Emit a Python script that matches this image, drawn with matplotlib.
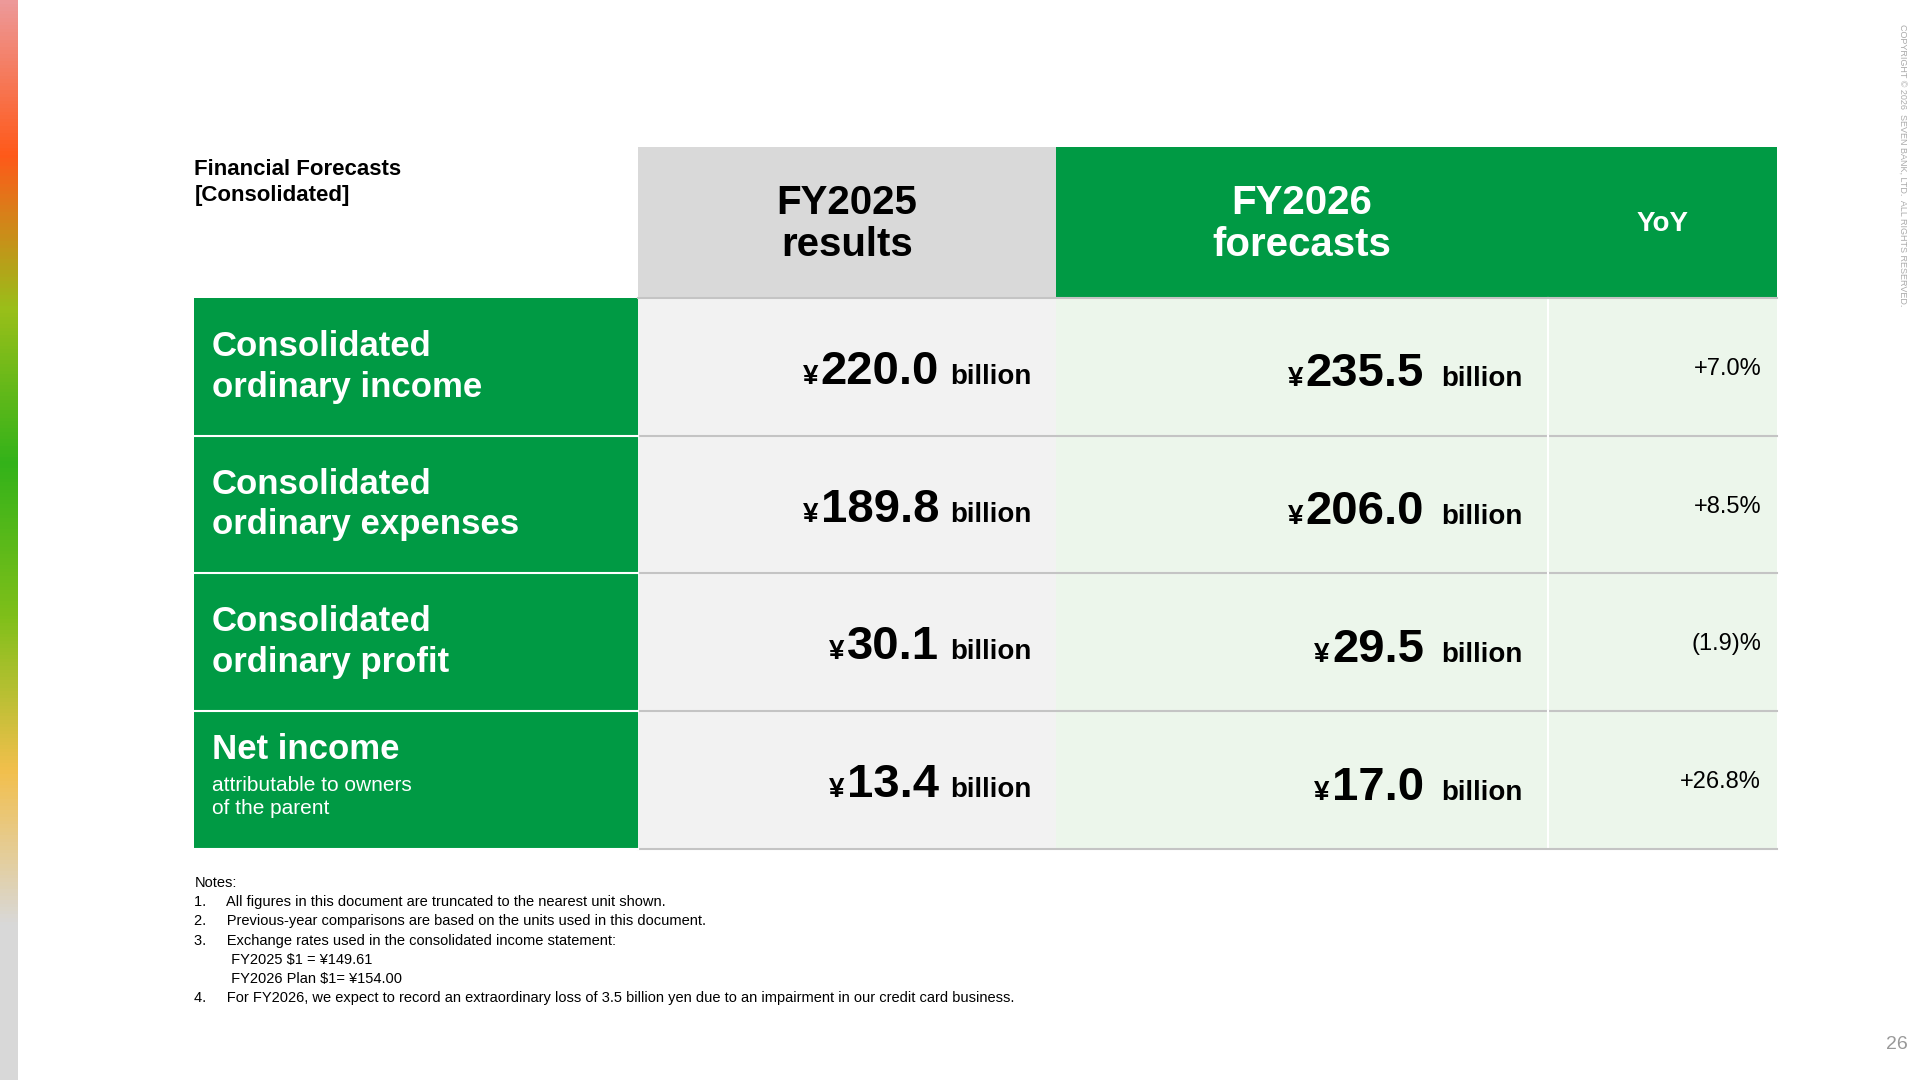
import numpy as np
import matplotlib
matplotlib.use("Agg")
import matplotlib.pyplot as plt
from matplotlib.patches import Rectangle

plt.rcParams['font.family'] = ['Liberation Sans', 'DejaVu Sans']

## data
row_titles = ["Consolidated\nordinary income", "Consolidated\nordinary expenses",
              "Consolidated\nordinary profit", "Net income"]
fy2025 = ["220.0", "189.8", "30.1", "13.4"]
fy2026 = ["235.5", "206.0", "29.5", "17.0"]
yoy = ["+7.0%", "+8.5%", "(1.9)%", "+26.8%"]
notes = ["Notes:",
         "1.     All figures in this document are truncated to the nearest unit shown.",
         "2.     Previous-year comparisons are based on the units used in this document.",
         "3.     Exchange rates used in the consolidated income statement:",
         "         FY2025 $1 = \u00a5149.61",
         "         FY2026 Plan $1= \u00a5154.00",
         "4.     For FY2026, we expect to record an extraordinary loss of 3.5 billion yen due to an impairment in our credit card business."]

GREEN = "#009a44"
W, H = 1560, 882
fig = plt.figure(figsize=(19.2, 10.8), dpi=100)
ax = fig.add_axes([0, 0, 1, 1])
ax.set_xlim(0, W)
ax.set_ylim(H, 0)
ax.axis("off")

# left gradient strip
grad = np.array([[0.93, 0.60, 0.60], [1.0, 0.35, 0.1], [0.6, 0.75, 0.1], [0.2, 0.7, 0.1],
                 [0.5, 0.75, 0.1], [0.95, 0.75, 0.3], [0.85, 0.85, 0.85], [0.85, 0.85, 0.85]])
ys = np.linspace(0, 1, len(grad))
yy = np.linspace(0, 1, 300)
img = np.stack([np.interp(yy, ys, grad[:, c]) for c in range(3)], axis=1)[:, None, :]
ax.imshow(img, extent=(0, 14, H, 0), aspect="auto")

cols = [158, 518, 858, 1258, 1444]
hdr_top, hdr_bot = 120, 243
rows = [243, 356, 468, 581, 693]

# header
ax.add_patch(Rectangle((cols[1], hdr_top), cols[2] - cols[1], hdr_bot - hdr_top, color="#d9d9d9", lw=0))
ax.add_patch(Rectangle((cols[2], hdr_top), cols[4] - cols[2], hdr_bot - hdr_top, color=GREEN, lw=0))
ax.text(158, 130, "Financial Forecasts\n[Consolidated]", fontsize=16, weight="bold", va="top", linespacing=1.3)
ax.text((cols[1] + cols[2]) / 2, 183, "FY2025\nresults", fontsize=29, weight="bold", ha="center", va="center", linespacing=1.15)
ax.text((cols[2] + cols[3]) / 2, 183, "FY2026\nforecasts", fontsize=29, weight="bold", ha="center", va="center",
        color="white", linespacing=1.15)
ax.text((cols[3] + cols[4]) / 2, 183, "YoY", fontsize=20, weight="bold", ha="center", va="center", color="white")

fig.canvas.draw()
r = fig.canvas.get_renderer()
inv = ax.transData.inverted()

def money(xend_num, xbill, ymid, num):
    t = ax.text(xend_num, ymid + 14, num, fontsize=34, weight="bold", ha="right", va="baseline")
    bb = t.get_window_extent(r)
    x0 = inv.transform((bb.x0, bb.y0))[0]
    ax.text(x0 - 2, ymid + 14, "\u00a5", fontsize=20, weight="bold", ha="right", va="baseline")
    ax.text(xbill, ymid + 14, "billion", fontsize=20, weight="bold", ha="left", va="baseline")

for i in range(4):
    y0, y1 = rows[i], rows[i + 1]
    h = y1 - y0
    ax.add_patch(Rectangle((cols[0], y0), cols[1] - cols[0], h, color=GREEN, lw=0))
    ax.add_patch(Rectangle((cols[1], y0), cols[2] - cols[1], h, color="#f2f2f2", lw=0))
    ax.add_patch(Rectangle((cols[2], y0), cols[4] - cols[2], h, color="#ecf6eb", lw=0))
    ax.plot([cols[3], cols[3]], [y0, y1], color="white", lw=1.5)
    ax.plot([cols[1], cols[4]], [y1, y1], color="#c4c4c4", lw=1.5)
    ax.plot([cols[0], cols[1]], [y1, y1], color="white", lw=1.5)
    if i < 3:
        ax.text(172, y0 + h / 2, row_titles[i], fontsize=25, weight="bold", color="white",
                va="center", linespacing=1.3)
    else:
        ax.text(172, y0 + 31, row_titles[i], fontsize=25, weight="bold", color="white", va="center")
        ax.text(172, y0 + 70, "attributable to owners\nof the parent", fontsize=15, color="white",
                va="center", linespacing=1.3)
    ym = y0 + h / 2
    money(763, 772, ym, fy2025[i])
    money(1157, 1171, ym + 2, fy2026[i])
    ax.text(1431, y0 + 58, yoy[i], fontsize=17, ha="right", va="center")

ax.plot([cols[1], cols[4]], [hdr_bot, hdr_bot], color="#c4c4c4", lw=1.5)

for k, line in enumerate(notes):
    ax.text(158, 721 + k * 15.7, line, fontsize=10.5, va="center")

ax.text(1541, 853, "26", fontsize=14, color="#999999", ha="center", va="center")
ax.text(1546, 20, "COPYRIGHT \u00a9 2026  SEVEN BANK, LTD.  ALL RIGHTS RESERVED.", fontsize=6.5,
        color="#aaaaaa", rotation=-90, ha="center", va="top")

fig.savefig("out.png", dpi=100)
